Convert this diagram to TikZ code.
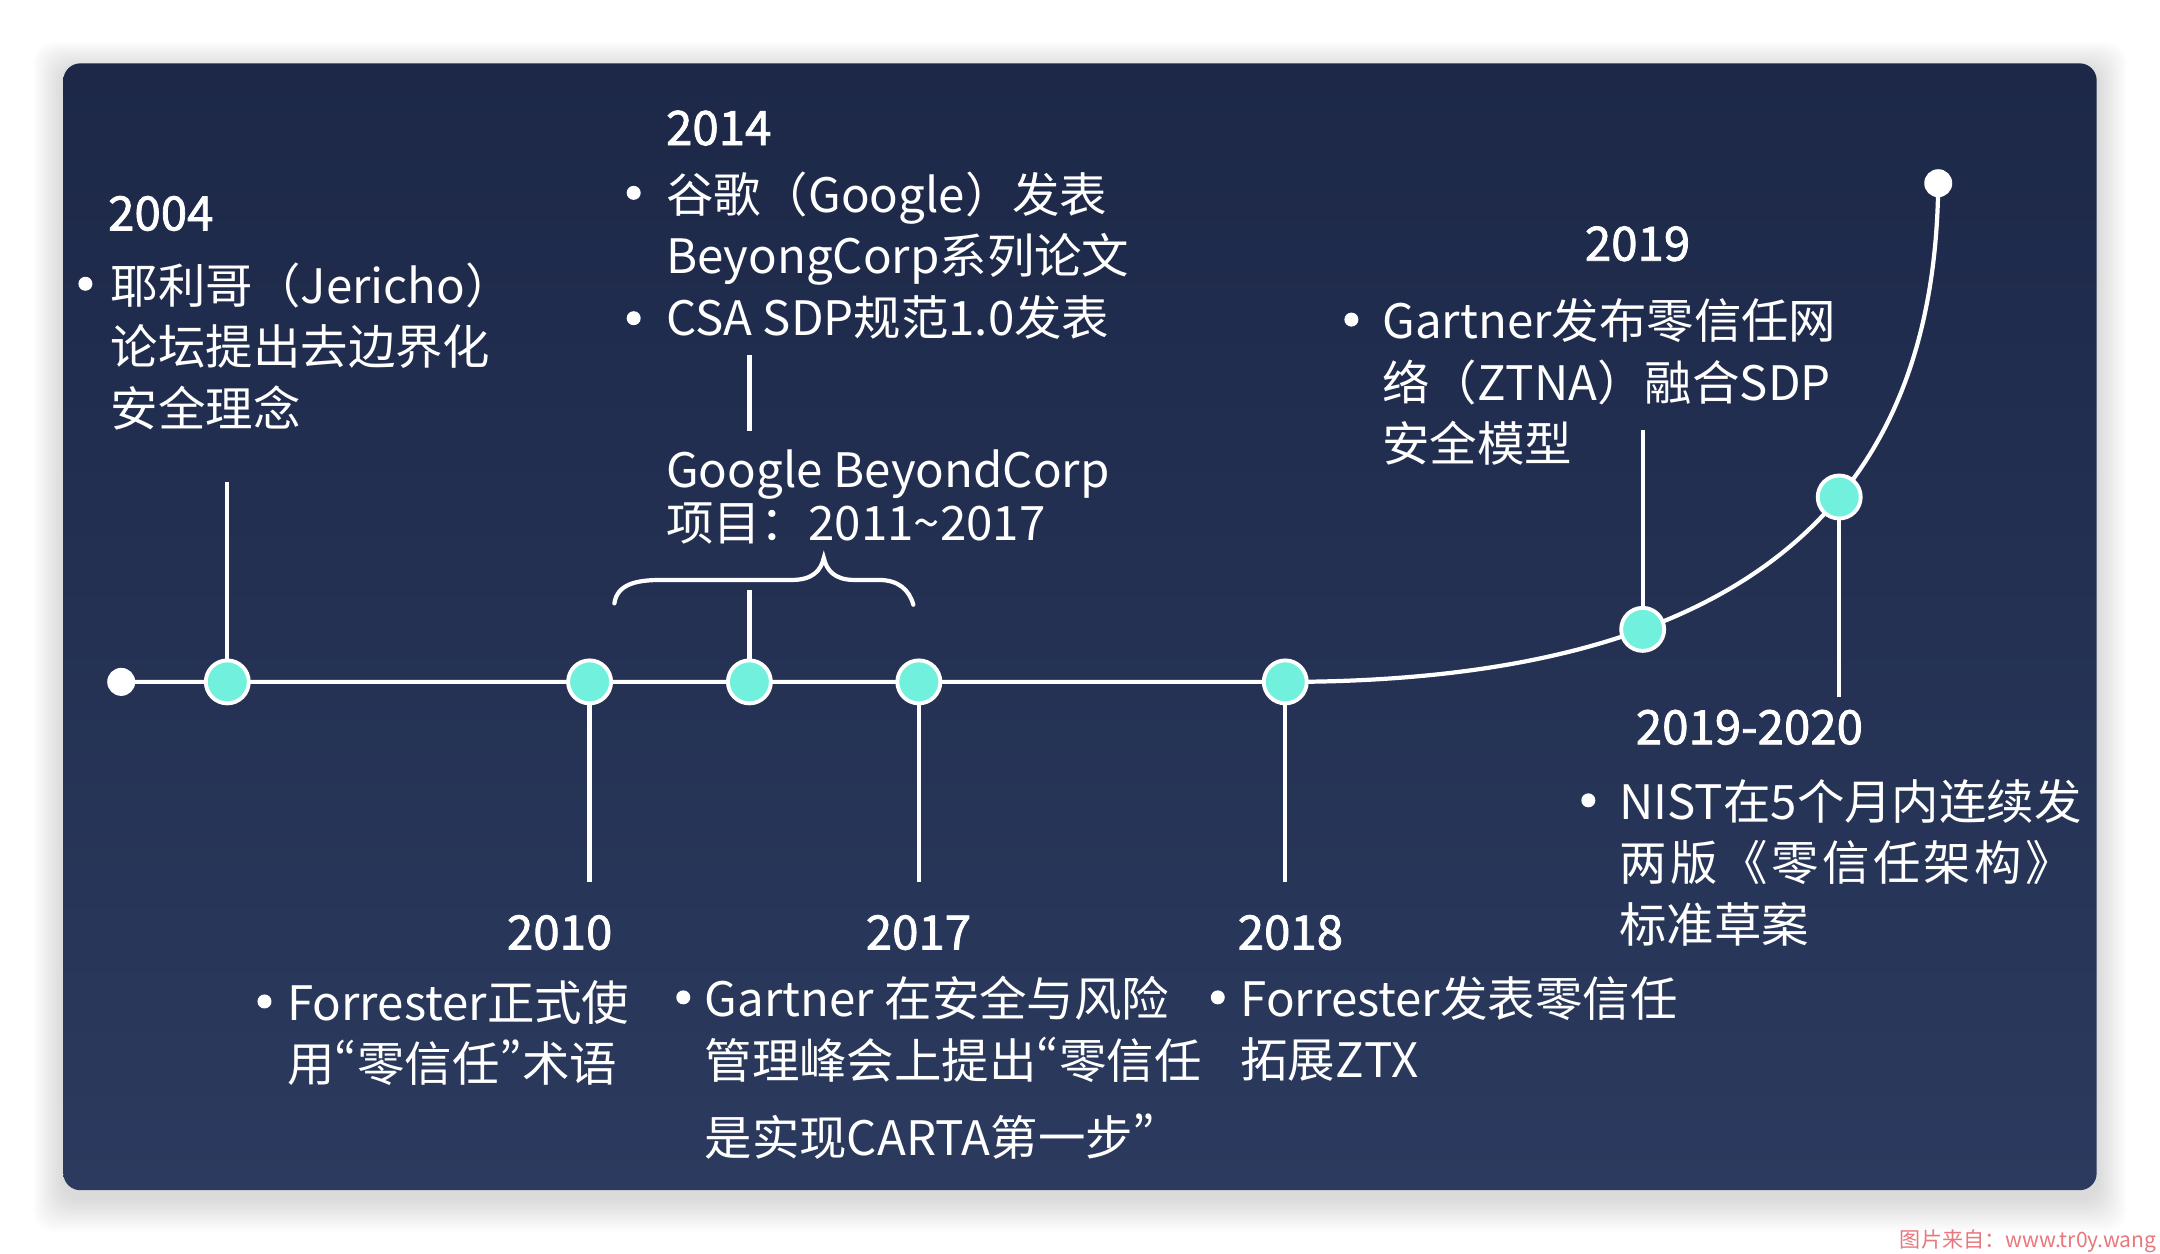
\documentclass[tikz,border=0pt]{standalone}
\usepackage{fontspec}
\setmainfont{Noto Sans CJK SC}
\newfontfamily\yrfont[FakeBold=1.6]{Noto Sans CJK SC}
\newfontfamily\pwfont[RawFeature=+pwid]{Noto Sans CJK SC}
\newcommand\qo{{\pwfont “}}
\newcommand\qc{{\pwfont ”}}
\usetikzlibrary{calc}
\definecolor{bgtop}{RGB}{29,40,72}
\definecolor{bgbot}{RGB}{43,58,94}
\definecolor{mint}{RGB}{114,240,222}
\definecolor{wmark}{RGB}{232,120,125}
\begin{document}
\begin{tikzpicture}[x=0.013776cm, y=-0.013776cm]
    % 定义样式
    \tikzset{
        tline/.style={white, line width=1.2pt},
        mnode/.style={circle, fill=mint, draw=white, line width=1.1pt, minimum size=0.43cm, inner sep=0pt},
        enddot/.style={circle, fill=white, minimum size=0.28cm, inner sep=0pt},
        bul/.style={circle, fill=white, minimum size=0.14cm, inner sep=0pt},
        txt/.style={text=white, inner sep=0pt, align=left, anchor=north west, font=\fontsize{13.5}{17.6}\selectfont},
        yr/.style={text=white, inner sep=0pt, anchor=west, font=\fontsize{13.5}{16}\selectfont\yrfont},
    }

    % 画布和阴影
    \useasboundingbox (0,0) rectangle (1568,910);
    \fill[white] (0,0) rectangle (1568,910);
    \foreach \s in {1,...,12}
        \fill[black, opacity=0.011, rounded corners=0.2cm] (46-1.8*\s,50-1.6*\s) rectangle (1522+1.8*\s,870+2*\s);
    \shade[top color=bgtop, bottom color=bgbot, rounded corners=0.17cm] (46,46) rectangle (1522,864);

    % 时间轴上的点
    \coordinate (p0) at (88,495);
    \coordinate (p2004) at (165,495);
    \coordinate (p2010) at (428,495);
    \coordinate (p2014) at (544,495);
    \coordinate (p2017) at (667,495);
    \coordinate (p2018) at (933,495);
    \coordinate (pend) at (1407,133);

    % 直线 + 上扬的曲线
    \draw[tline] (p0) -- (p2018) .. controls (1290,495) and (1405,345) .. (pend)
        coordinate[pos=0.3] (p2019) coordinate[pos=0.58] (p2020);

    % 竖线的端点
    \coordinate (s2004) at (165,350);
    \coordinate (s2010) at (428,640);
    \coordinate (s2014) at (544,428);
    \coordinate (s2017) at (667,640);
    \coordinate (s2018) at (933,640);
    \coordinate (s2019) at ($(p2019)+(0,-145)$);
    \coordinate (s2020) at ($(p2020)+(0,145)$);
    \foreach \y in {2004,2010,2014,2017,2018,2019,2020}
        \draw[tline] (p\y) -- (s\y);

    % 大括号 (BeyondCorp 项目)
    \draw[tline, line cap=round] (446,438) .. controls (448,424) and (462,421) .. (480,421)
        -- (575,421) .. controls (590,421) and (596,414) .. (598,405)
        .. controls (600,414) and (606,421) .. (620,421)
        -- (638,421) .. controls (652,421) and (660,428) .. (663,439);
    \coordinate (g1) at (544,258);
    \coordinate (g2) at (544,313);
    \draw[tline] (g1) -- (g2);

    % 圆点
    \node[enddot] (start) at (p0) {};
    \node[enddot] (stop) at (pend) {};
    \foreach \y in {2004,2010,2014,2017,2018,2019,2020}
        \node[mnode] (m\y) at (p\y) {};

    % 2004
    \node[yr] (y2004) at (78,155) {2004};
    \node[bul] (b2004) at (62,206) {};
    \node[txt] (t2004) at (80,190) {耶利哥（Jericho）\\论坛提出去边界化\\安全理念};

    % 2014
    \node[yr] (y2014) at (483,93) {2014};
    \node[bul] (b2014a) at (460,140) {};
    \node[bul] (b2014b) at (460,231) {};
    \node[txt] (t2014) at (483,124) {谷歌（Google）发表\\BeyongCorp系列论文\\CSA SDP规范1.0发表};
    \node[txt, font=\fontsize{13.5}{14}\selectfont] (gbc) at (483,326) {Google BeyondCorp\\项目：2011\textasciitilde2017};

    % 2010
    \node[yr, anchor=east] (y2010) at (445,677) {2010};
    \node[bul] (b2010) at (192,727) {};
    \node[txt] (t2010) at (208,711) {Forrester正式使\\用\qo 零信任\qc 术语};

    % 2017
    \node[yr] (y2017) at (628,677) {2017};
    \node[bul] (b2017) at (496,724) {};
    \node[txt] (t2017) at (511,708) {Gartner 在安全与风险\\管理峰会上提出\qo 零信任\\[4.3pt]是实现CARTA第一步\qc};

    % 2018
    \node[yr] (y2018) at (898,677) {2018};
    \node[bul] (b2018) at (884,724) {};
    \node[txt] (t2018) at (900,708) {Forrester发表零信任\\拓展ZTX};

    % 2019
    \node[yr] (y2019) at (1150,177) {2019};
    \node[bul] (b2019) at (981,232) {};
    \node[txt] (t2019) at (1003,216) {Gartner发布零信任网\\络（ZTNA）融合SDP\\安全模型};

    % 2019-2020
    \node[yr] (y2020) at (1187,528) {2019-2020};
    \node[bul] (b2020) at (1153,581) {};
    \node[txt] (t2020) at (1175,565) {NIST在5个月内连续发\\{\addfontfeature{LetterSpace=7}两版《零信任架构》}\\标准草案};

    % 水印
    \node[text=wmark, anchor=east, inner sep=0pt, font=\fontsize{6}{7}\selectfont] (wm) at (1566,901) {图片来自：www.tr0y.wang};
\end{tikzpicture}
\end{document}
